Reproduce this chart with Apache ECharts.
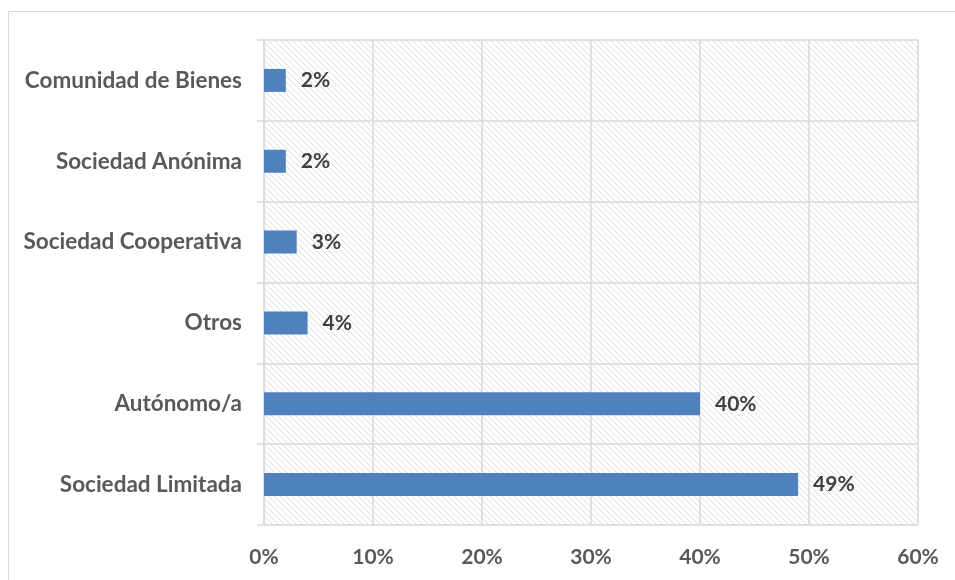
<!DOCTYPE html>
<html>
<head>
<meta charset="utf-8">
<script src="https://cdn.jsdelivr.net/npm/echarts@6/dist/echarts.min.js"></script>
<style>
html,body{margin:0;padding:0;background:#fff;}
#chart{width:955px;height:580px;}
</style>
</head>
<body>
<div id="chart"></div>
<script>
const categories = ['Sociedad Limitada', 'Autónomo/a', 'Otros', 'Sociedad Cooperativa', 'Sociedad Anónima', 'Comunidad de Bienes'];
const values = [49, 40, 4, 3, 2, 2];
const xTicks = [0, 10, 20, 30, 40, 50, 60];

function makeHatch() {
  const c = document.createElement('canvas');
  const s = 6;
  c.width = s; c.height = s;
  const g = c.getContext('2d');
  g.fillStyle = '#ffffff';
  g.fillRect(0, 0, s, s);
  g.strokeStyle = '#dadada';
  g.lineWidth = 1;
  g.beginPath();
  g.moveTo(-1, -1); g.lineTo(s + 1, s + 1);
  g.moveTo(-1, s - 1); g.lineTo(1, s + 1);
  g.moveTo(s - 1, -1); g.lineTo(s + 1, 1);
  g.stroke();
  return c;
}

const chart = echarts.init(document.getElementById('chart'));
const font = 'Lato';
chart.setOption({
  animation: false,
  backgroundColor: '#ffffff',
  graphic: [{
    type: 'rect',
    shape: { x: 8.5, y: 11.5, width: 1000, height: 700 },
    style: { fill: 'none', stroke: '#d9d9d9', lineWidth: 1 }
  }],
  grid: {
    left: 264, right: 37, top: 40, bottom: 55,
    show: true,
    backgroundColor: { image: makeHatch(), repeat: 'repeat' },
    borderWidth: 0
  },
  xAxis: {
    type: 'value',
    min: xTicks[0], max: xTicks[xTicks.length - 1], interval: 10,
    axisLine: { show: false },
    axisTick: { show: false },
    splitLine: { show: true, lineStyle: { color: '#d9d9d9', width: 1.5 } },
    axisLabel: {
      formatter: v => v + '%',
      color: '#595959', fontFamily: font, fontWeight: 'bold', fontSize: 21, margin: 22
    }
  },
  yAxis: {
    type: 'category',
    data: categories,
    axisLine: { show: true, lineStyle: { color: '#d9d9d9', width: 1.5 } },
    axisTick: { show: true, length: 7, lineStyle: { color: '#d9d9d9', width: 1.5 } },
    splitLine: { show: true, lineStyle: { color: '#d9d9d9', width: 1.5 } },
    axisLabel: { color: '#595959', fontFamily: font, fontWeight: 'bold', fontSize: 22.5, margin: 22 }
  },
  series: [{
    type: 'bar',
    data: values,
    barWidth: 23,
    itemStyle: { color: '#4f81bd' },
    label: {
      show: true, position: 'right', distance: 15,
      formatter: p => p.value + '%',
      color: '#404040', fontFamily: font, fontWeight: 'bold', fontSize: 21
    }
  }]
});
</script>
</body>
</html>
